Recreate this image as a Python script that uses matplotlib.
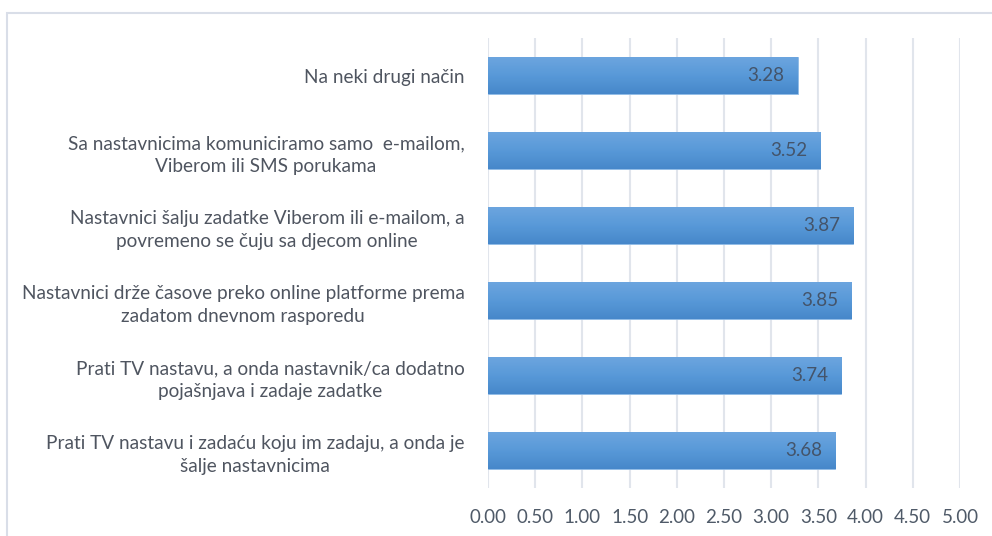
import numpy as np
import matplotlib.pyplot as plt
from matplotlib.colors import LinearSegmentedColormap

# Data
categories = [
    'Na neki drugi način',
    'Sa nastavnicima komuniciramo samo  e-mailom,\nViberom ili SMS porukama',
    'Nastavnici šalju zadatke Viberom ili e-mailom, a\npovremeno se čuju sa djecom online',
    'Nastavnici drže časove preko online platforme prema\nzadatom dnevnom rasporedu',
    'Prati TV nastavu, a onda nastavnik/ca dodatno\npojašnjava i zadaje zadatke',
    'Prati TV nastavu i zadaću koju im zadaju, a onda je\nšalje nastavnicima',
]
values = [3.28, 3.52, 3.87, 3.85, 3.74, 3.68]
xticks = [0, 0.5, 1, 1.5, 2, 2.5, 3, 3.5, 4, 4.5, 5]

plt.rcParams['font.family'] = ['Lato', 'DejaVu Sans']

fig = plt.figure(figsize=(9.92, 5.36), dpi=100)
# light frame around the chart
fig.patches.append(plt.Rectangle((7 / 992, -0.1), 1.1, 1 - 13 / 536 + 0.1,
                                 transform=fig.transFigure, fill=False,
                                 edgecolor='#d9dee8', linewidth=1.5))
ax = fig.add_axes([488 / 992, 48 / 536, (960 - 488) / 992, 450 / 536])

y = np.arange(len(categories))[::-1]
bars = ax.barh(y, values, height=0.49, color='#5b9bd5', zorder=2)

# vertical gradient inside each bar, light on top, darker at the bottom
grad = LinearSegmentedColormap.from_list('g', ['#6ca5df', '#5899d8', '#4687ca'])
for b in bars:
    b.set_edgecolor('#8fbbe6')
    b.set_linewidth(0.6)
    x0, y0 = b.get_x(), b.get_y()
    w, h = b.get_width(), b.get_height()
    im = ax.imshow(np.linspace(0, 1, 64).reshape(-1, 1), cmap=grad, aspect='auto',
                   extent=(x0, x0 + w, y0, y0 + h), origin='upper', zorder=2.5)
    im.set_clip_path(b)

for yy, v in zip(y, values):
    ax.text(v - 0.14, yy, f'{v:.2f}', ha='right', va='center',
            fontsize=13.5, color='#44546a', zorder=3)

ax.set_xlim(0, 5)
ax.set_ylim(-0.5, len(categories) - 0.5)
ax.set_xticks(xticks)
ax.set_xticklabels([f'{t:.2f}' for t in xticks], fontsize=13.5, color='#4f5a68')
ax.set_yticks(y)
ax.set_yticklabels(categories, fontsize=13.7, color='#4f5560',
                   multialignment='center', linespacing=1.4)
ax.tick_params(axis='both', length=0)
ax.tick_params(axis='y', pad=17)
ax.tick_params(axis='x', pad=15)
ax.grid(axis='x', color='#e1e5ec', linewidth=1.5, zorder=0)
ax.set_axisbelow(True)
for s in ax.spines.values():
    s.set_visible(False)

fig.savefig('out.png', dpi=100)
